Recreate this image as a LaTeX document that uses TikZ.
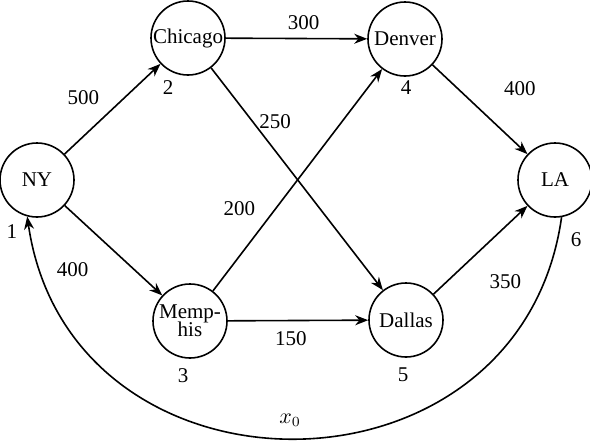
\documentclass[tikz,border=0pt]{standalone}
\usepackage{fontspec}
\setmainfont{Liberation Serif}
\usetikzlibrary{arrows.meta,positioning}
\begin{document}
\begin{tikzpicture}[x=0.5pt,y=0.5pt,font=\fontsize{10.5}{11}\selectfont]
                    \tikzset{
                        city/.style={draw, circle, line width=0.8pt, minimum size=37pt, inner sep=0pt, align=center},
                        arc/.style={-{Stealth[length=6.5pt,width=5pt]}, line width=0.8pt}
                    }
                    \useasboundingbox (0,0) rectangle (590,441);

                    \draw node[city] (ny) at (37,261) {NY};
                    \draw node[city] (chi) at (188,403) {Chicago};
                    \draw node[city] (den) at (405,402) {Denver};
                    \draw node[city] (la) at (555,261) {LA};
                    \draw node[city] (mem) at (190,120) {Memp-\\[-2pt]his};
                    \draw node[city] (dal) at (406,121) {Dallas};
                    \foreach \x/\y in {%
                        ny/chi, ny/mem, chi/den, chi/dal, mem/den, mem/dal, den/la, dal/la%
                    }{
                    \draw (\x) edge[arc] (\y);
                    }
                    \draw[arc] (la.-80) .. controls (520,-71) and (70,-71) .. (ny.-105);
                    % weights
                    \path (ny) -- node[pos=0.45, above left=1pt] (w1) {500} (chi);
                    \path (ny) -- node[below left=2.5pt and 9pt] (w2) {400} (mem);
                    \path (chi) -- node[pos=0.55, above=1pt] (w3) {300} (den);
                    \path (chi) -- node[pos=0.24, right=0pt] (w4) {250} (dal);
                    \path (mem) -- node[pos=0.3, above left=1pt] (w5) {200} (den);
                    \path (mem) -- node[pos=0.45, below=2pt] (w6) {150} (dal);
                    \path (den) -- node[above right=3.5pt and 8.5pt] (w7) {400} (la);
                    \path (dal) -- node[below right=8.5pt and 1pt] (w8) {350} (la);
                    % numbers
                    \node (n1) at (12,209) {1};
                    \node (n2) at (168,353) {2};
                    \node (n3) at (183,65) {3};
                    \node (n4) at (406,353) {4};
                    \node (n5) at (403,66) {5};
                    \node (n6) at (576,201) {6};
                    \node (x0) at (290,21) {$x_0$};
                \end{tikzpicture}
\end{document}
